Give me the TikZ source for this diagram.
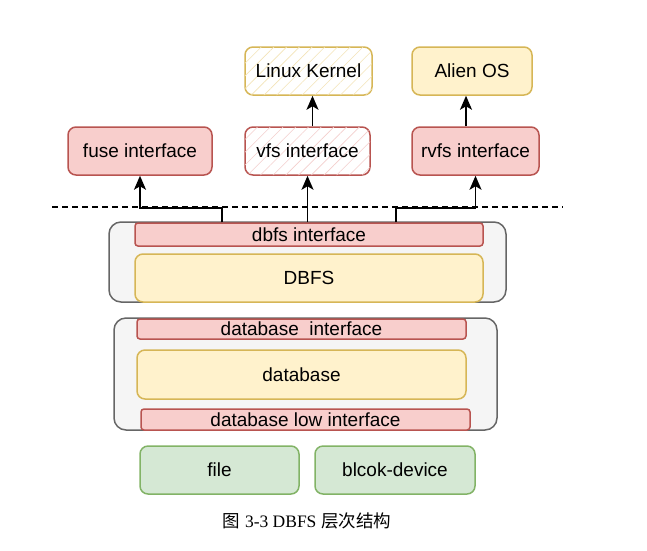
\documentclass[tikz,border=0pt]{standalone}
\usepackage{fontspec}
\setmainfont{Liberation Sans}
\newfontfamily\cjk{Noto Sans CJK SC}
\newfontfamily\capserif{Liberation Serif}
\usetikzlibrary{arrows.meta,patterns.meta}
\definecolor{redfill}{HTML}{F8CECC}
\definecolor{redline}{HTML}{B85450}
\definecolor{yelfill}{HTML}{FFF2CC}
\definecolor{yelline}{HTML}{D6B656}
\definecolor{grnfill}{HTML}{D5E8D4}
\definecolor{grnline}{HTML}{82B366}
\definecolor{gryfill}{HTML}{F5F5F5}
\definecolor{gryline}{HTML}{666666}
\definecolor{hatchy}{HTML}{F3E4B8}
\definecolor{hatchr}{HTML}{F4CFCD}
\tikzset{
  base/.style={draw, line width=1.5pt, inner sep=0pt, font=\fontsize{19}{22}\selectfont, text=black},
  redbox/.style={base, fill=redfill, draw=redline, rounded corners=8pt},
  yelbox/.style={base, fill=yelfill, draw=yelline, rounded corners=8pt},
  grnbox/.style={base, fill=grnfill, draw=grnline, rounded corners=8pt},
  outerbox/.style={base, fill=gryfill, draw=gryline, rounded corners=12pt},
  redbar/.style={base, fill=redfill, draw=redline, rounded corners=3pt},
  hatchbox/.style={base, fill=white, rounded corners=8pt},
  arr/.style={line width=1.8pt, -{Stealth[length=14pt,width=12pt,inset=3.5pt]}},
}
\begin{document}
\begin{tikzpicture}[x=1pt,y=-1pt]
\useasboundingbox (0,0) rectangle (647,550);
% top row
\node[hatchbox, draw=yelline, minimum width=127pt, minimum height=48pt,
  postaction={pattern={Lines[angle=45,distance=9pt,line width=0.6pt]}, pattern color=hatchy}] (lk) at (308.5,71) {};
\node[base, draw=none, fill=none] at (lk) {Linux Kernel};
\node[yelbox, minimum width=120pt, minimum height=48pt] (alien) at (472,71) {Alien OS};
% interface row
\node[redbox, minimum width=144pt, minimum height=48pt] (fuse) at (140,151) {fuse interface};
\node[hatchbox, draw=redline, minimum width=125pt, minimum height=48pt,
  postaction={pattern={Lines[angle=45,distance=9pt,line width=0.6pt]}, pattern color=hatchr}] (vfs) at (307.5,151) {};
\node[base, draw=none, fill=none] at (vfs) {vfs interface};
\node[redbox, minimum width=127pt, minimum height=48pt] (rvfs) at (475.5,151) {rvfs interface};
% dashed line
\coordinate (dl) at (52,207);
\coordinate (dr) at (563,207);
\draw[line width=1.5pt, dash pattern=on 6pt off 4pt] (dl) -- (dr);
% DBFS group
\node[outerbox, minimum width=397pt, minimum height=80pt] (g1) at (307.5,262) {};
\node[redbar, minimum width=348pt, minimum height=23pt] (dbfsi) at (309,234.5) {dbfs interface};
\node[yelbox, minimum width=348pt, minimum height=48pt] (dbfs) at (309,278) {DBFS};
% database group
\node[outerbox, minimum width=383pt, minimum height=112pt] (g2) at (305.5,374) {};
\node[redbar, minimum width=329pt, minimum height=20pt] (dbi) at (301.5,329) {database\ \ interface};
\node[yelbox, minimum width=329pt, minimum height=49pt] (db) at (301.5,374.5) {database};
\node[redbar, minimum width=329pt, minimum height=21pt] (dbl) at (305.5,419.5) {database low interface};
% bottom
\node[grnbox, minimum width=159pt, minimum height=48pt] (file) at (219.5,470) {file};
\node[grnbox, minimum width=160pt, minimum height=48pt] (blk) at (395,470) {blcok-device};
% caption
\node[inner sep=0pt, font=\fontsize{17.5}{20}\selectfont] (cap) at (307,521) {{\cjk 图} {\capserif 3-3 DBFS} {\cjk 层次结构}};
% connectors
\draw[arr] ([xshift=-87pt]dbfsi.north) |- ([yshift=-32pt]fuse.south) -- (fuse.south);
\draw[arr] (dbfsi.north -| vfs.south) -- (vfs.south);
\draw[arr] ([xshift=87pt]dbfsi.north) |- ([yshift=-32pt]rvfs.south) -- (rvfs.south);
\draw[arr] ([xshift=5pt]vfs.north) -- ([xshift=5pt]vfs.north |- lk.south);
\draw[arr] ([xshift=-9.5pt]rvfs.north) -- ([xshift=-9.5pt]rvfs.north |- alien.south);
\end{tikzpicture}
\end{document}
